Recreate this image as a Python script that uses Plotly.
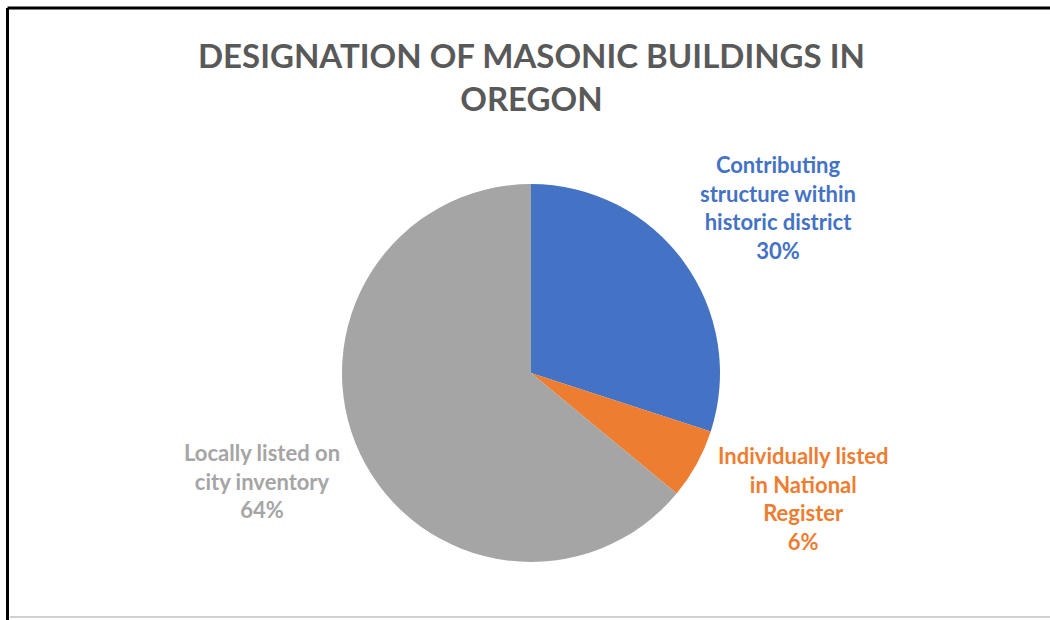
import plotly.graph_objects as go

categories = ["Contributing structure within historic district",
              "Individually listed in National Register",
              "Locally listed on city inventory"]
values = [30, 6, 64]
label_lines = ["Contributing<br>structure within<br>historic district<br>30%",
               "Individually listed<br>in National<br>Register<br>6%",
               "Locally listed on<br>city inventory<br>64%"]
slice_colors = ["#4472C4", "#ED7D31", "#A5A5A5"]
label_colors = ["#4472C4", "#ED7D31", "#A5A5A5"]

W, H = 1050, 620
cx, cy, r = 531, 373, 189

fig = go.Figure(go.Pie(
    labels=categories, values=values, sort=False, direction="clockwise",
    rotation=0, marker=dict(colors=slice_colors, line=dict(width=0)),
    textinfo="none", hoverinfo="label+percent", showlegend=False,
    domain=dict(x=[(cx - r) / W, (cx + r) / W], y=[(H - cy - r) / H, (H - cy + r) / H]),
))

label_pos = [(778, 207), (803, 498), (262, 481)]
for txt, col, (x, y) in zip(label_lines, label_colors, label_pos):
    fig.add_annotation(x=x / W, y=1 - y / H, xref="paper", yref="paper",
                       text="<b>" + txt + "</b>", showarrow=False,
                       font=dict(family="Lato", size=22, color=col),
                       align="center", xanchor="center", yanchor="middle")

fig.add_annotation(x=531 / W, y=1 - 77 / H, xref="paper", yref="paper",
                   text="<b>DESIGNATION OF MASONIC BUILDINGS IN<br>OREGON</b>",
                   showarrow=False, font=dict(family="Lato", size=33, color="#595959"),
                   align="center", xanchor="center", yanchor="middle")

# frame
fig.add_shape(type="line", xref="paper", yref="paper", x0=7.5 / W, x1=1.0, y0=1 - 8 / H, y1=1 - 8 / H,
              line=dict(color="black", width=3))
fig.add_shape(type="line", xref="paper", yref="paper", x0=7.5 / W, x1=7.5 / W, y0=1 - 8 / H, y1=0,
              line=dict(color="black", width=3))
fig.add_shape(type="line", xref="paper", yref="paper", x0=10 / W, x1=1.0, y0=1 - 617 / H, y1=1 - 617 / H,
              line=dict(color="#D0D0D0", width=2))

fig.update_layout(width=W, height=H, margin=dict(l=0, r=0, t=0, b=0),
                  paper_bgcolor="white", plot_bgcolor="white")
fig.write_html("out.html")
